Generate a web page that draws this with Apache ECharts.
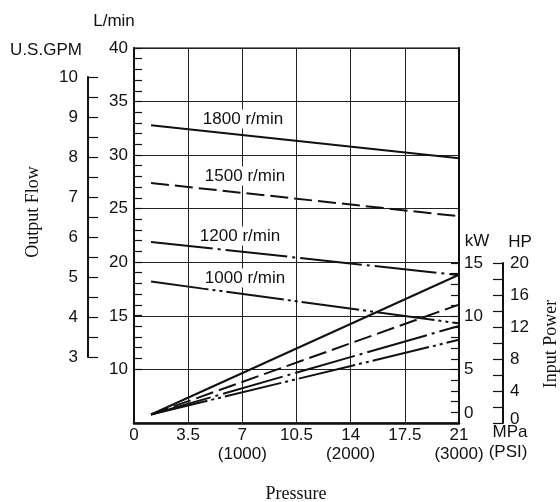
<!DOCTYPE html>
<html>
<head>
<meta charset="utf-8">
<script src="https://cdn.jsdelivr.net/npm/echarts@6/dist/echarts.min.js"></script>
<style>
  html, body { margin: 0; padding: 0; background: #fff; }
  #main { width: 560px; height: 502px; }
</style>
</head>
<body>
<div id="main"></div>
<script>
// pressure (MPa) at start / end of every curve
var pressurePts = [1.1, 21];
var pressureTicks = [0, 3.5, 7, 10.5, 14, 17.5, 21];
var psiLabels = { 7: '(1000)', 14: '(2000)', 21: '(3000)' };

var speeds = ['1800 r/min', '1500 r/min', '1200 r/min', '1000 r/min'];
// output flow, L/min
var flow1800 = [32.8, 29.7];
var flow1500 = [27.4, 24.3];
var flow1200 = [21.9, 18.8];
var flow1000 = [18.2, 14.3];
// input power, kW
var power1800 = [0.8, 13.9];
var power1500 = [0.8, 11.1];
var power1200 = [0.8, 9.1];
var power1000 = [0.8, 7.8];

var INK = '#111';
var SANS = 'Liberation Sans, Arial, sans-serif';
var SERIF = 'Liberation Serif, Times New Roman, serif';

// dash patterns: solid, dashed, dash-dot, dash-dot-dot
var dashes = ['solid', [18, 6], [62, 5, 3, 5], [58, 4, 3, 4, 3, 4]];

function pts(vals) {
  return pressurePts.map(function (p, i) { return [p, vals[i]]; });
}

function curve(name, vals, k, axisIdx) {
  return {
    name: name,
    type: 'line',
    xAxisIndex: axisIdx,
    yAxisIndex: axisIdx,
    data: pts(vals),
    symbol: 'none',
    silent: true,
    lineStyle: { color: INK, width: 2, type: dashes[k] },
    z: 5
  };
}

function hiddenX(g) {
  return { type: 'value', gridIndex: g, min: 0, max: 21, show: false };
}

var label = { color: INK, fontFamily: SANS, fontSize: 17 };
var tickStyle = { color: INK, width: 1.2 };

var option = {
  animation: false,
  grid: [
    // main plot frame
    { left: 134, top: 48, width: 325, height: 375, show: true, borderColor: '#555', borderWidth: 1.5 },
    // minor ticks of L/min (10..40 only)
    { left: 134, top: 48, width: 325, height: 321 },
    // kW
    { left: 134, top: 263, width: 325, height: 160 },
    // HP
    { left: 134, top: 263, width: 369, height: 160 },
    // U.S.GPM
    { left: 88, top: 77, width: 10, height: 280 }
  ],
  xAxis: [
    {
      type: 'value', gridIndex: 0, min: 0, max: 21, interval: 3.5,
      axisLine: { onZero: false, lineStyle: { color: INK, width: 2.5 } },
      axisTick: { show: false },
      splitLine: { show: true, lineStyle: { color: '#222', width: 1 } },
      axisLabel: Object.assign({}, label, {
        margin: 3, lineHeight: 19,
        formatter: function (v) {
          var t = pressureTicks.indexOf(v) >= 0 ? String(v) : '';
          return psiLabels[v] ? t + '\n' + psiLabels[v] : t;
        }
      })
    },
    hiddenX(1), hiddenX(2), hiddenX(3), hiddenX(4)
  ],
  yAxis: [
    // L/min
    {
      type: 'value', gridIndex: 0, min: 5, max: 40, interval: 5,
      axisLine: { show: true, onZero: false, lineStyle: { color: INK, width: 2 } },
      axisTick: { show: false },
      splitLine: { show: true, lineStyle: { color: '#222', width: 1 } },
      axisLabel: Object.assign({}, label, {
        margin: 6,
        formatter: function (v) { return v < 10 ? '' : String(v); }
      })
    },
    {
      type: 'value', gridIndex: 1, min: 10, max: 40, interval: 5,
      axisLine: { show: false, onZero: false },
      axisLabel: { show: false },
      splitLine: { show: false },
      axisTick: { show: true, inside: true, length: 8, lineStyle: tickStyle },
      minorTick: { show: true, splitNumber: 5, length: 8, lineStyle: tickStyle }
    },
    // kW
    {
      type: 'value', gridIndex: 2, min: 0, max: 15, interval: 5, position: 'right',
      axisLine: { show: true, onZero: false, lineStyle: { color: INK, width: 2 } },
      splitLine: { show: false },
      axisTick: { show: true, inside: true, length: 8, lineStyle: tickStyle },
      minorTick: { show: true, splitNumber: 5, length: 8, lineStyle: tickStyle },
      axisLabel: Object.assign({}, label, {
        margin: 5,
        formatter: function (v) { return v === 0 ? '{lo|0}' : String(v); },
        rich: { lo: { fontFamily: SANS, fontSize: 17, color: INK, padding: [0, 0, 20, 0] } }
      })
    },
    // HP
    {
      type: 'value', gridIndex: 3, min: 0, max: 20, interval: 4, position: 'right',
      axisLine: { show: true, onZero: false, lineStyle: { color: INK, width: 2 } },
      splitLine: { show: false },
      axisTick: { show: true, inside: true, length: 10, lineStyle: tickStyle },
      minorTick: { show: true, splitNumber: 2, length: 10, lineStyle: tickStyle },
      axisLabel: Object.assign({}, label, {
        margin: 7,
        formatter: function (v) { return v === 0 ? '{lo|0}' : String(v); },
        rich: { lo: { fontFamily: SANS, fontSize: 17, color: INK, padding: [0, 0, 8, 0] } }
      })
    },
    // U.S.GPM
    {
      type: 'value', gridIndex: 4, min: 3, max: 10, interval: 1, position: 'left',
      axisLine: { show: true, onZero: false, lineStyle: { color: INK, width: 2 } },
      splitLine: { show: false },
      axisTick: { show: true, inside: true, length: 10, lineStyle: tickStyle },
      minorTick: { show: true, splitNumber: 2, length: 10, lineStyle: tickStyle },
      axisLabel: Object.assign({}, label, { margin: 10 })
    },
    // heavier right border of the frame
    {
      type: 'value', gridIndex: 0, min: 5, max: 40, position: 'right',
      axisLine: { show: true, onZero: false, lineStyle: { color: INK, width: 2 } },
      axisTick: { show: false }, axisLabel: { show: false }, splitLine: { show: false }
    }
  ],
  series: [
    curve(speeds[0], flow1800, 0, 0),
    curve(speeds[1], flow1500, 1, 0),
    curve(speeds[2], flow1200, 2, 0),
    curve(speeds[3], flow1000, 3, 0),
    curve(speeds[0], power1800, 0, 2),
    curve(speeds[1], power1500, 1, 2),
    curve(speeds[2], power1200, 2, 2),
    curve(speeds[3], power1000, 3, 2)
  ],
  graphic: []
};

// plain text pieces: units, titles, speed tags
function txt(s, x, y, opts) {
  opts = opts || {};
  return {
    type: 'text', x: x, y: y, z: 100, rotation: opts.rot || 0,
    style: {
      text: s, fill: INK,
      font: (opts.size || 17) + 'px ' + (opts.font || SANS),
      align: 'center', verticalAlign: 'middle',
      backgroundColor: opts.bg, padding: opts.bg ? [1, 3] : 0
    }
  };
}

option.graphic = [
  txt('L/min', 114, 21),
  txt('U.S.GPM', 46, 50),
  txt('kW', 477, 241),
  txt('HP', 520, 242),
  txt('MPa', 510, 432),
  txt('(PSI)', 508, 452),
  txt('Pressure', 296, 494, { font: SERIF, size: 18 }),
  txt('Output Flow', 33, 212, { font: SERIF, size: 18, rot: Math.PI / 2 }),
  txt('Input Power', 551, 344, { font: SERIF, size: 18, rot: Math.PI / 2 }),
  txt(speeds[0], 243, 119, { bg: '#fff' }),
  txt(speeds[1], 245, 176, { bg: '#fff' }),
  txt(speeds[2], 240, 236, { bg: '#fff' }),
  txt(speeds[3], 245, 278, { bg: '#fff' })
];

var myChart = echarts.init(document.getElementById('main'));
myChart.setOption(option);
</script>
</body>
</html>
